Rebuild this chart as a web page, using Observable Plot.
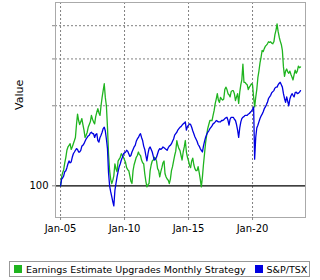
<!DOCTYPE html>
<html>
<head>
<meta charset="utf-8">
<script src="https://cdn.jsdelivr.net/npm/d3@7"></script>
<script src="https://cdn.jsdelivr.net/npm/@observablehq/plot@0.6"></script>
<style>
  html, body { margin: 0; padding: 0; background: #fff; }
  #wrap { position: relative; width: 320px; height: 280px; font-family: "DejaVu Sans", sans-serif; }
  #legend { position: absolute; left: 9px; top: 261px; width: 301px; height: 16px; box-sizing: border-box;
    border: 1px solid #999; display: flex; align-items: center; font-size: 9.5px; color: #000; padding-left: 4px; white-space: nowrap; }
  .sw { width: 8px; height: 8px; display: inline-block; margin-right: 4px; }
</style>
</head>
<body>
<div id="wrap"></div>
<script>
const seriesNames = ["Earnings Estimate Upgrades Monthly Strategy", "S&P/TSX"];
const seriesColors = ["#1fb41f", "#0000e0"];
const startYear = 2005; // monthly values from Jan 2005
const yTicks = [100, 200, 300, 400];
const yTickLabels = ["100", "", "", ""];
const xTickYears = [2005, 2010, 2015, 2020];

// Earnings Estimate Upgrades Monthly Strategy (monthly)
const strategy = [
  100,108,112,115,122,128,136,140,142,144,137,140,
  144,148,152,170,186,176,170,174,179,170,162,152,
  155,159,166,170,174,184,178,174,171,182,189,195,
  188,184,200,215,228,242,215,200,166,132,114,106,
  102,105,109,121,116,113,124,126,128,132,130,128,
  125,122,117,115,114,109,104,102,114,120,124,128,
  130,134,131,130,125,122,121,111,104,99,101,102,
  114,120,124,125,128,127,124,116,114,108,113,117,
  122,124,111,108,106,105,102,106,114,118,124,130,
  135,148,142,138,136,130,125,134,140,148,134,128,
  124,119,117,124,127,120,116,114,114,118,112,106,
  99,108,120,132,145,155,164,170,176,176,176,184,
  192,204,212,222,210,206,215,212,210,212,230,235,
  230,222,220,216,226,228,228,222,209,216,222,204,
  225,240,250,287,245,245,242,240,230,235,238,242,
  240,215,198,215,230,255,270,290,305,323,320,328,
  335,338,342,348,346,348,344,342,348,370,385,406,
  380,362,350,340,323,280,258,270,275,268,265,270,
  262,256,250,262,272,265,270,282,278,280
];

// S&P/TSX (monthly)
const tsx = [
  100,106,107,109,113,114,117,121,124,122,123,128,
  132,134,136,138,137,134,134,136,141,142,144,147,
  150,152,154,155,158,159,157,157,152,156,157,148,
  146,152,155,159,164,166,161,150,138,112,100,95,
  91,87,84,96,102,108,113,118,121,125,128,132,
  133,134,136,135,132,129,130,134,137,140,142,147,
  150,152,155,157,152,148,141,137,130,124,132,138,
  140,137,134,129,125,126,128,132,136,138,137,138,
  140,139,138,137,136,139,141,142,144,147,150,155,
  157,159,162,164,166,167,169,171,172,174,162,167,
  169,171,170,166,161,157,153,150,147,143,141,138,
  136,134,141,147,152,156,159,161,164,166,168,171,
  172,174,176,175,174,174,174,176,176,177,179,180,
  181,176,169,178,181,181,181,178,176,170,162,152,
  165,174,179,181,182,184,184,184,186,187,189,191,
  194,198,126,152,165,169,174,179,183,186,190,195,
  198,202,206,213,216,219,224,226,228,233,235,235,
  240,243,245,240,235,222,213,206,216,208,200,212,
  218,222,219,216,224,225,222,223,225,228
];

const start = new Date(Date.UTC(startYear, 0, 1));
const toRows = (arr, name) => arr.map((v, i) => ({date: d3.utcMonth.offset(start, i), value: v, series: name}));
const rowsA = toRows(strategy, seriesNames[0]);
const rowsB = toRows(tsx, seriesNames[1]);
const xTicks = xTickYears.map(y => new Date(Date.UTC(y, 0, 1)));
const grid = "#808080";

const chart = Plot.plot({
  width: 320,
  height: 258,
  marginTop: 2,
  marginRight: 15,
  marginBottom: 41,
  marginLeft: 55,
  style: {fontFamily: "DejaVu Sans, sans-serif", fontSize: "10px", color: "#000", background: "#fff"},
  x: {type: "utc", domain: [new Date(Date.UTC(2004, 7, 10)), new Date(Date.UTC(2024, 1, 20))]},
  y: {type: "log", domain: [76, 489]},
  marks: [
    Plot.ruleX(xTicks, {stroke: grid, strokeDasharray: "2,2", strokeWidth: 1}),
    Plot.ruleY(yTicks.filter(v => v !== 100), {stroke: grid, strokeDasharray: "2,2", strokeWidth: 1}),
    Plot.ruleY([100], {stroke: "#000", strokeWidth: 1.2}),
    Plot.lineY(rowsA, {x: "date", y: "value", stroke: seriesColors[0], strokeWidth: 1.3}),
    Plot.lineY(rowsB, {x: "date", y: "value", stroke: seriesColors[1], strokeWidth: 1.3}),
    Plot.frame({stroke: "#aaa"}),
    Plot.axisX({ticks: xTicks, tickFormat: d3.utcFormat("%b-%y"), tickSize: 3, tickPadding: 4, label: null, stroke: "#888", fontSize: 10}),
    Plot.axisY({ticks: yTicks, tickFormat: d => yTickLabels[yTicks.indexOf(d)], tickSize: 3, tickPadding: 4, label: null, stroke: "#888", fontSize: 10}),
    Plot.text(["Value"], {frameAnchor: "left", rotate: -90, dx: -36, fontSize: 11, fill: "#000"})
  ]
});

const wrap = document.getElementById("wrap");
wrap.appendChild(chart);
const legend = document.createElement("div");
legend.id = "legend";
seriesNames.forEach((name, i) => {
  const item = document.createElement("span");
  item.style.display = "inline-flex";
  item.style.alignItems = "center";
  if (i > 0) item.style.marginLeft = "9px";
  const sw = document.createElement("span");
  sw.className = "sw";
  sw.style.background = seriesColors[i];
  const t = document.createElement("span");
  t.textContent = name;
  item.appendChild(sw);
  item.appendChild(t);
  legend.appendChild(item);
});
wrap.appendChild(legend);
</script>
</body>
</html>
